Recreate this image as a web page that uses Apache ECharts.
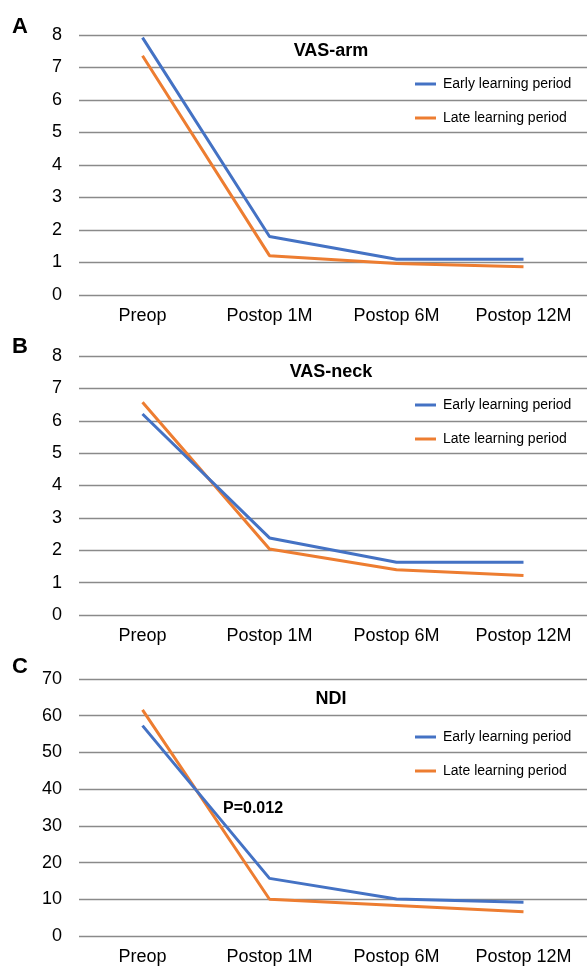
<!DOCTYPE html>
<html>
<head>
<meta charset="utf-8">
<script src="https://cdn.jsdelivr.net/npm/echarts@6/dist/echarts.min.js"></script>
<style>
  html, body { margin: 0; padding: 0; background: #fff; }
  #main { width: 587px; height: 966px; }
</style>
</head>
<body>
<div id="main"></div>
<script>
var categories = ["Preop", "Postop 1M", "Postop 6M", "Postop 12M"];
var armEarly = [7.92, 1.8, 1.1, 1.1];
var armLate = [7.36, 1.21, 0.97, 0.87];
var neckEarly = [6.21, 2.38, 1.63, 1.63];
var neckLate = [6.57, 2.04, 1.4, 1.22];
var ndiEarly = [57.3, 15.7, 10.1, 9.2];
var ndiLate = [61.6, 10.0, 8.3, 6.6];
var panelTitles = ["VAS-arm", "VAS-neck", "NDI"];
var seriesNames = ["Early learning period", "Late learning period"];

var font = "Liberation Sans, Arial, sans-serif";
var blue = "#4472C4";
var orange = "#ED7D31";
var gridColor = "#8a8a8a";

var chartDom = document.getElementById("main");
var myChart = echarts.init(chartDom);
var option;

var grids = [
  { left: 79, right: -3, top: 35, height: 260 },
  { left: 79, right: -3, top: 356, height: 259 },
  { left: 79, right: -3, top: 679, height: 257 },
];
var titleTops = [37, 358, 685];
var legendTops = [72, 393, 725];
var letterTops = [16, 336, 656];
var yMax = [8, 8, 70];
var yInt = [1, 1, 10];
var lineData = [
  [armEarly, armLate],
  [neckEarly, neckLate],
  [ndiEarly, ndiLate],
];

var xAxis = [], yAxis = [], series = [], title = [], legend = [], graphic = [];
for (var i = 0; i < 3; i++) {
  xAxis.push({
    type: "category",
    gridIndex: i,
    data: categories,
    axisLine: { show: false },
    axisTick: { show: false },
    axisLabel: { fontSize: 18, color: "#000", fontFamily: font, margin: 12 },
  });
  yAxis.push({
    type: "value",
    gridIndex: i,
    min: 0,
    max: yMax[i],
    interval: yInt[i],
    axisLine: { show: false },
    axisTick: { show: false },
    axisLabel: { fontSize: 18, color: "#000", fontFamily: font, margin: 17 },
    splitLine: { lineStyle: { color: gridColor, width: 1.3 } },
  });
  title.push({
    text: panelTitles[i],
    left: 326,
    top: titleTops[i],
    textAlign: "center",
    textStyle: { fontSize: 18, fontWeight: "bold", color: "#000", fontFamily: font },
  });
  legend.push({
    orient: "vertical",
    left: 410,
    top: legendTops[i],
    itemWidth: 21,
    itemHeight: 3,
    itemGap: 20,
    icon: "rect",
    data: seriesNames.map(function (n) { return n + " " + i; }),
    formatter: function (n) { return n.slice(0, -2); },
    textStyle: { fontSize: 14, color: "#000", fontFamily: font, padding: [0, 0, 0, 2] },
  });
  for (var s = 0; s < 2; s++) {
    series.push({
      name: seriesNames[s] + " " + i,
      type: "line",
      xAxisIndex: i,
      yAxisIndex: i,
      data: lineData[i][s],
      symbol: "none",
      color: s === 0 ? blue : orange,
      lineStyle: { width: 3, color: s === 0 ? blue : orange },
      z: s === 0 ? 3 : 2,
    });
  }
  graphic.push({
    type: "text",
    left: 12,
    top: letterTops[i],
    style: { text: ["A", "B", "C"][i], font: "bold 22px " + font, fill: "#000" },
  });
}
graphic.push({
  type: "text",
  left: 223,
  top: 801,
  style: { text: "P=0.012", font: "bold 16px " + font, fill: "#000" },
});

option = {
  animation: false,
  backgroundColor: "#fff",
  grid: grids,
  xAxis: xAxis,
  yAxis: yAxis,
  title: title,
  legend: legend,
  graphic: graphic,
  series: series,
};
myChart.setOption(option);
</script>
</body>
</html>
